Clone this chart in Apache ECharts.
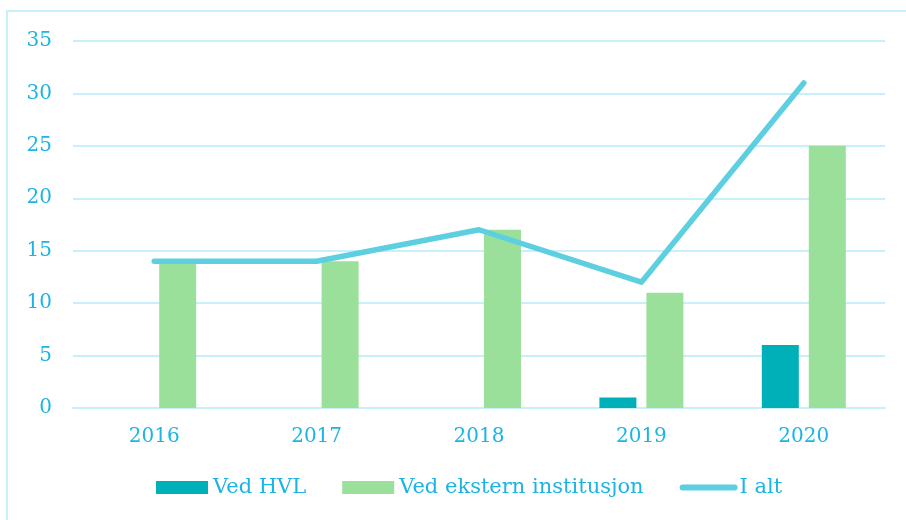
<!DOCTYPE html>
<html><head><meta charset="utf-8">
<script src="https://cdn.jsdelivr.net/npm/echarts@6/dist/echarts.min.js"></script>
<style>html,body{margin:0;padding:0;background:#fff}#c{width:906px;height:520px}</style>
</head><body><div id="c"></div>
<script>
var categories = ['2016', '2017', '2018', '2019', '2020'];
var vedHVL = [0, 0, 0, 1, 6];
var vedEkstern = [14, 14, 17, 11, 25];
var iAlt = [14, 14, 17, 12, 31];
var seriesNames = ['Ved HVL', 'Ved ekstern institusjon', 'I alt'];

var txt = '#1BB4E4';
var font = 'DejaVu Serif';
var chart = echarts.init(document.getElementById('c'));
chart.setOption({
  animation: false,
  backgroundColor: '#fff',
  graphic: [{type: 'rect', shape: {x: 7, y: 11, width: 1000, height: 1000},
    style: {fill: 'none', stroke: '#C6F0FA', lineWidth: 2}, silent: true}],
  grid: {left: 73, right: 21, top: 41, bottom: 112},
  legend: {
    bottom: 17, left: 151, itemWidth: 52, itemHeight: 13, itemGap: 36,
    textStyle: {color: txt, fontFamily: font, fontSize: 21},
    data: [
      {name: seriesNames[0], icon: 'rect'},
      {name: seriesNames[1], icon: 'rect'},
      {name: seriesNames[2], itemStyle: {color: 'rgba(0,0,0,0)', borderWidth: 0, opacity: 0},
        lineStyle: {width: 6, cap: 'round', color: '#5ECFE0'}}
    ]
  },
  xAxis: {
    type: 'category', data: categories,
    axisLine: {lineStyle: {color: '#C6F0FA', width: 2}},
    axisTick: {show: false},
    axisLabel: {color: txt, fontFamily: font, fontSize: 20, margin: 19}
  },
  yAxis: {
    type: 'value', min: 0, max: 35, interval: 5,
    axisLine: {show: false}, axisTick: {show: false},
    splitLine: {lineStyle: {color: '#C6F0FA', width: 2}},
    axisLabel: {color: txt, fontFamily: font, fontSize: 20, margin: 21}
  },
  series: [
    {name: seriesNames[0], type: 'bar', data: vedHVL, barWidth: 37, barGap: '27%',
      itemStyle: {color: '#00B0B9'}},
    {name: seriesNames[1], type: 'bar', data: vedEkstern, barWidth: 37, barGap: '27%',
      itemStyle: {color: '#9ADF9A'}},
    {name: seriesNames[2], type: 'line', data: iAlt, showSymbol: false, symbol: 'none',
      lineStyle: {color: '#5ECFE0', width: 5.5, cap: 'round', join: 'round'},
      itemStyle: {color: '#5ECFE0'}}
  ]
});
</script></body></html>
